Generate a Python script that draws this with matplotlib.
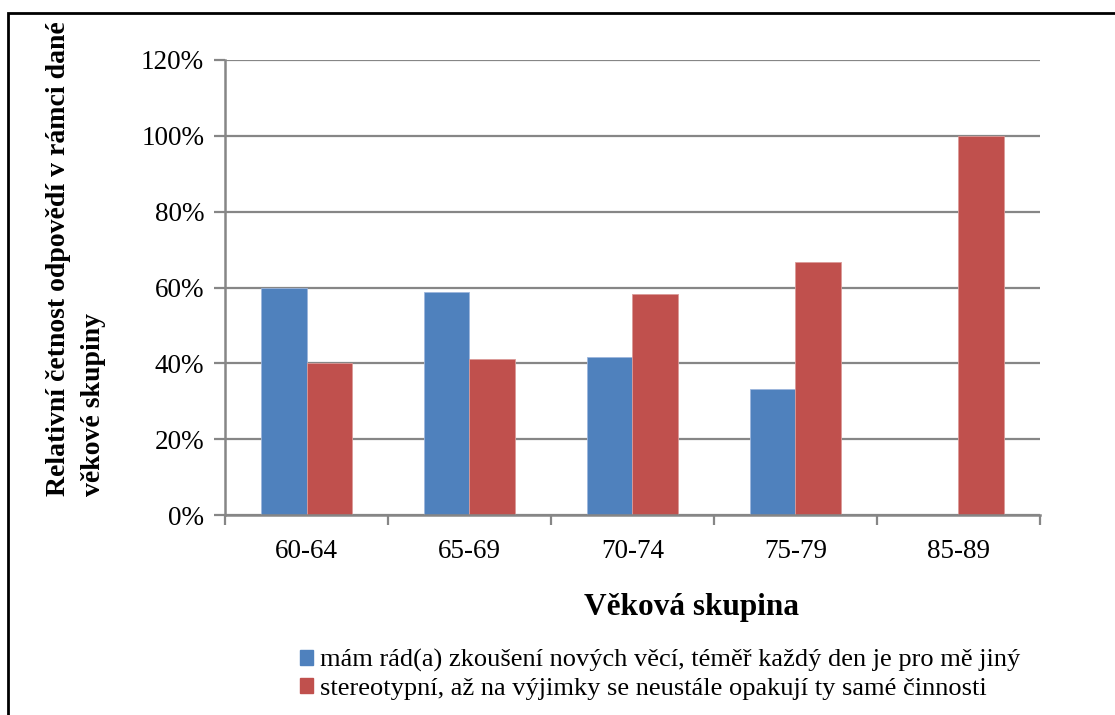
import matplotlib
matplotlib.use('Agg')
from matplotlib import pyplot as plt
from matplotlib.patches import Rectangle, Patch
from matplotlib.ticker import FixedLocator, PercentFormatter
import numpy as np

age_groups = ['60-64', '65-69', '70-74', '75-79', '85-89']
likes_new = [0.600, 0.588, 0.417, 0.333, 0.0]
stereotyped = [0.400, 0.412, 0.583, 0.667, 1.0]

label_new = 'mám rád(a) zkoušení nových věcí, téměř každý den je pro mě jiný'
label_stereo = 'stereotypní, až na výjimky se neustále opakují ty samé činnosti'

blue = '#4F81BD'
red = '#C0504D'
axis_gray = '#868686'

plt.rcParams['font.family'] = ['Liberation Serif', 'DejaVu Serif']

fig = plt.figure(figsize=(11.15, 7.15), dpi=100)
ax = fig.add_axes([0.2018, 0.2797, 0.7309, 0.6364])

x = np.arange(len(age_groups))
w = 0.282
ax.bar(x - w / 2, likes_new, w, color=blue, edgecolor='#9DB6DC', linewidth=0.6, zorder=3)
ax.bar(x + w / 2, stereotyped, w, color=red, edgecolor='#DB9A98', linewidth=0.6, zorder=3)

ax.set_xlim(-0.5, len(age_groups) - 0.5)
ax.set_ylim(0, 1.2)
ax.set_yticks(np.arange(0, 1.21, 0.2))
ax.yaxis.set_major_formatter(PercentFormatter(1.0, decimals=0))
ax.grid(axis='y', color=axis_gray, linewidth=1.6, zorder=0)

# category boundaries get the tick marks, labels sit in between
ax.xaxis.set_major_locator(FixedLocator(np.arange(-0.5, len(age_groups), 1.0)))
ax.xaxis.set_minor_locator(FixedLocator(x))
ax.set_xticklabels([], minor=False)
ax.set_xticklabels(age_groups, minor=True)
ax.tick_params(axis='x', which='major', length=7, width=1.6, color=axis_gray)
ax.tick_params(axis='x', which='minor', length=0, pad=17, labelsize=19.5)
ax.tick_params(axis='y', length=8, width=1.6, color=axis_gray, pad=7, labelsize=19.5)

for side in ['top', 'right']:
    ax.spines[side].set_visible(False)
for side in ['left', 'bottom']:
    ax.spines[side].set_color(axis_gray)
    ax.spines[side].set_linewidth(1.8)
    ax.spines[side].set_zorder(4)

fig.text(0.068, 0.638, 'Relativní četnost odpovědí v rámci dané\nvěkové skupiny',
         rotation=90, ha='center', va='center', multialignment='left',
         fontsize=20, fontweight='bold', linespacing=1.5)

fig.text(692 / 1115, 1 - 608 / 715, 'Věková skupina', ha='center', va='center',
         fontsize=22.5, fontweight='bold')

handles = [Patch(color=blue, label=label_new), Patch(color=red, label=label_stereo)]
fig.legend(handles=handles, loc='upper left', bbox_to_anchor=(300 / 1115, 1 - 649 / 715),
           frameon=False, fontsize=19, handlelength=0.5, handleheight=0.5,
           handletextpad=0.25, labelspacing=0.22, borderpad=0, borderaxespad=0)

fig.add_artist(Rectangle((8 / 1115, -0.1), 1.2, 1.1 - 13 / 715, transform=fig.transFigure,
                         fill=False, edgecolor='black', linewidth=2))

fig.savefig('out.png', dpi=100)
